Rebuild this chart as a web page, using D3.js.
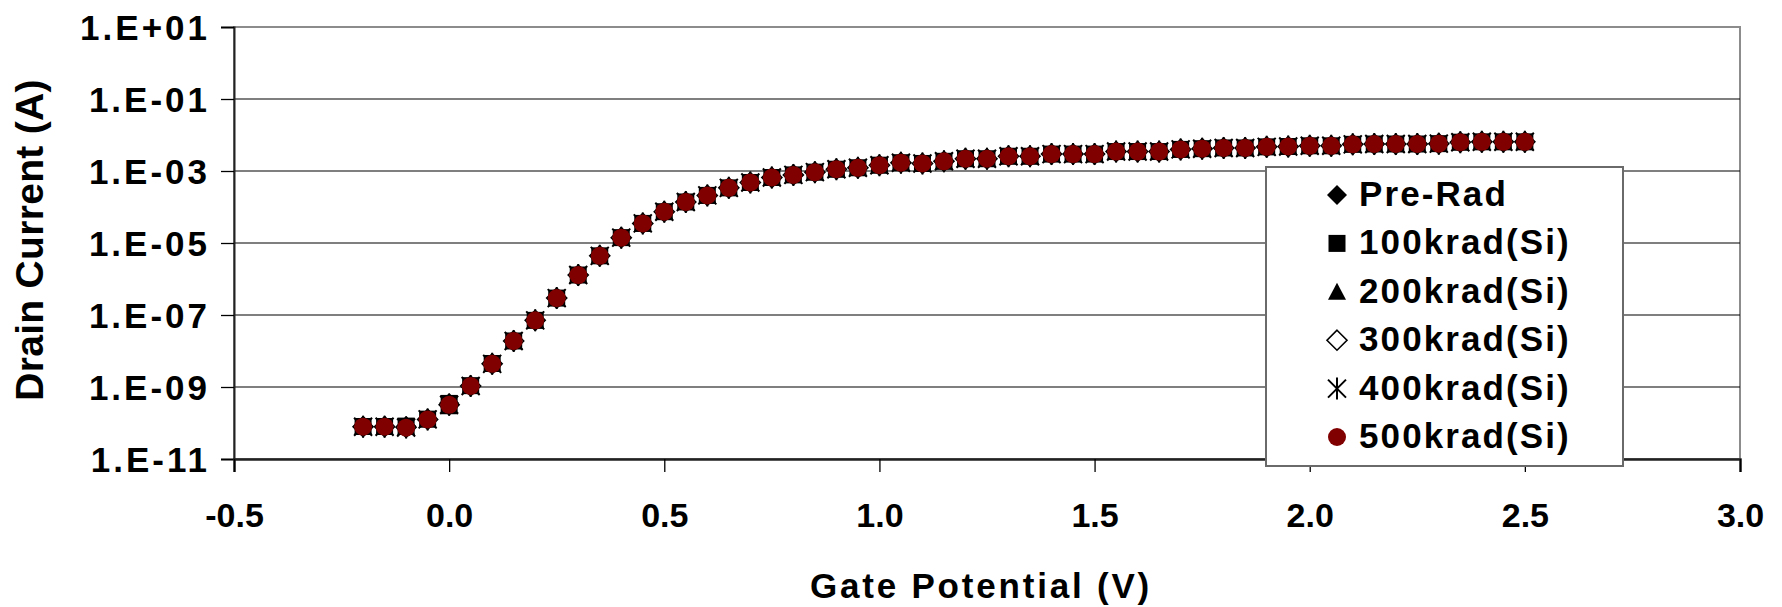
<!DOCTYPE html>
<html>
<head>
<meta charset="utf-8">
<script src="https://cdn.jsdelivr.net/npm/d3@7"></script>
<style>
  html, body { margin: 0; padding: 0; background: #fff; }
  svg { display: block; }
  text { font-family: "Liberation Sans", Arial, sans-serif; font-weight: bold; fill: #000; }
</style>
</head>
<body>
<svg id="chart" width="1782" height="607"></svg>
<script>
// Gate sweep (V)
const gateVoltage = [
  -0.20, -0.15, -0.10, -0.05, 0.00, 0.05, 0.10, 0.15, 0.20, 0.25, 0.30, 0.35, 0.40,
  0.45, 0.50, 0.55, 0.60, 0.65, 0.70, 0.75, 0.80, 0.85, 0.90, 0.95, 1.00, 1.05,
  1.10, 1.15, 1.20, 1.25, 1.30, 1.35, 1.40, 1.45, 1.50, 1.55, 1.60, 1.65, 1.70,
  1.75, 1.80, 1.85, 1.90, 1.95, 2.00, 2.05, 2.10, 2.15, 2.20, 2.25, 2.30, 2.35,
  2.40, 2.45, 2.50
];

// Drain current (A) for each total dose step
const preRad = [
  8.1e-11, 8.1e-11, 8.3e-11, 1.30e-10, 3.6e-10, 1.10e-9, 4.5e-9, 1.9e-8, 7.2e-8, 3.0e-7, 1.30e-6, 4.4e-6, 1.42e-5,
  3.5e-5, 7.4e-5, 1.38e-4, 2.1e-4, 3.4e-4, 4.8e-4, 6.6e-4, 7.8e-4, 9.3e-4, 1.12e-3, 1.23e-3, 1.45e-3, 1.70e-3,
  1.62e-3, 1.86e-3, 2.19e-3, 2.19e-3, 2.57e-3, 2.57e-3, 2.95e-3, 2.95e-3, 2.95e-3, 3.47e-3, 3.47e-3, 3.47e-3, 3.98e-3,
  4.17e-3, 4.37e-3, 4.37e-3, 4.68e-3, 4.79e-3, 5.01e-3, 5.01e-3, 5.50e-3, 5.62e-3, 5.62e-3, 5.62e-3, 5.75e-3, 6.31e-3,
  6.46e-3, 6.46e-3, 6.46e-3
];
const krad100 = [
  8.0e-11, 8.0e-11, 8.2e-11, 1.28e-10, 3.5e-10, 1.09e-9, 4.5e-9, 1.9e-8, 7.1e-8, 2.95e-7, 1.29e-6, 4.4e-6, 1.41e-5,
  3.5e-5, 7.4e-5, 1.38e-4, 2.1e-4, 3.4e-4, 4.8e-4, 6.6e-4, 7.8e-4, 9.3e-4, 1.12e-3, 1.23e-3, 1.45e-3, 1.70e-3,
  1.62e-3, 1.86e-3, 2.19e-3, 2.19e-3, 2.57e-3, 2.57e-3, 2.95e-3, 2.95e-3, 2.95e-3, 3.47e-3, 3.47e-3, 3.47e-3, 3.98e-3,
  4.17e-3, 4.37e-3, 4.37e-3, 4.68e-3, 4.79e-3, 5.01e-3, 5.01e-3, 5.50e-3, 5.62e-3, 5.62e-3, 5.62e-3, 5.75e-3, 6.31e-3,
  6.46e-3, 6.46e-3, 6.46e-3
];
const krad200 = [
  8.0e-11, 8.0e-11, 7.8e-11, 1.27e-10, 2.9e-10, 1.08e-9, 4.4e-9, 1.9e-8, 7.1e-8, 2.95e-7, 1.29e-6, 4.4e-6, 1.41e-5,
  3.5e-5, 7.4e-5, 1.38e-4, 2.1e-4, 3.4e-4, 4.8e-4, 6.6e-4, 7.8e-4, 9.3e-4, 1.12e-3, 1.23e-3, 1.45e-3, 1.70e-3,
  1.62e-3, 1.86e-3, 2.19e-3, 2.19e-3, 2.57e-3, 2.57e-3, 2.95e-3, 2.95e-3, 2.95e-3, 3.47e-3, 3.47e-3, 3.47e-3, 3.98e-3,
  4.17e-3, 4.37e-3, 4.37e-3, 4.68e-3, 4.79e-3, 5.01e-3, 5.01e-3, 5.50e-3, 5.62e-3, 5.62e-3, 5.62e-3, 5.75e-3, 6.31e-3,
  6.46e-3, 6.46e-3, 6.46e-3
];
const krad300 = [
  7.9e-11, 7.9e-11, 7.6e-11, 1.26e-10, 3.2e-10, 1.07e-9, 4.4e-9, 1.9e-8, 7.1e-8, 2.95e-7, 1.29e-6, 4.4e-6, 1.41e-5,
  3.5e-5, 7.4e-5, 1.38e-4, 2.1e-4, 3.4e-4, 4.8e-4, 6.6e-4, 7.8e-4, 9.3e-4, 1.12e-3, 1.23e-3, 1.45e-3, 1.70e-3,
  1.62e-3, 1.86e-3, 2.19e-3, 2.19e-3, 2.57e-3, 2.57e-3, 2.95e-3, 2.95e-3, 2.95e-3, 3.47e-3, 3.47e-3, 3.47e-3, 3.98e-3,
  4.17e-3, 4.37e-3, 4.37e-3, 4.68e-3, 4.79e-3, 5.01e-3, 5.01e-3, 5.50e-3, 5.62e-3, 5.62e-3, 5.62e-3, 5.75e-3, 6.31e-3,
  6.46e-3, 6.46e-3, 6.46e-3
];
const krad400 = [
  7.9e-11, 7.9e-11, 7.5e-11, 1.26e-10, 3.2e-10, 1.07e-9, 4.4e-9, 1.9e-8, 7.1e-8, 2.95e-7, 1.29e-6, 4.4e-6, 1.41e-5,
  3.5e-5, 7.4e-5, 1.38e-4, 2.1e-4, 3.4e-4, 4.8e-4, 6.6e-4, 7.8e-4, 9.3e-4, 1.12e-3, 1.23e-3, 1.45e-3, 1.70e-3,
  1.62e-3, 1.86e-3, 2.19e-3, 2.19e-3, 2.57e-3, 2.57e-3, 2.95e-3, 2.95e-3, 2.95e-3, 3.47e-3, 3.47e-3, 3.47e-3, 3.98e-3,
  4.17e-3, 4.37e-3, 4.37e-3, 4.68e-3, 4.79e-3, 5.01e-3, 5.01e-3, 5.50e-3, 5.62e-3, 5.62e-3, 5.62e-3, 5.75e-3, 6.31e-3,
  6.46e-3, 6.46e-3, 6.46e-3
];
const krad500 = [
  7.9e-11, 7.9e-11, 7.4e-11, 1.26e-10, 3.2e-10, 1.07e-9, 4.4e-9, 1.9e-8, 7.1e-8, 2.95e-7, 1.29e-6, 4.4e-6, 1.41e-5,
  3.5e-5, 7.4e-5, 1.38e-4, 2.1e-4, 3.4e-4, 4.8e-4, 6.6e-4, 7.8e-4, 9.3e-4, 1.12e-3, 1.23e-3, 1.45e-3, 1.70e-3,
  1.62e-3, 1.86e-3, 2.19e-3, 2.19e-3, 2.57e-3, 2.57e-3, 2.95e-3, 2.95e-3, 2.95e-3, 3.47e-3, 3.47e-3, 3.47e-3, 3.98e-3,
  4.17e-3, 4.37e-3, 4.37e-3, 4.68e-3, 4.79e-3, 5.01e-3, 5.01e-3, 5.50e-3, 5.62e-3, 5.62e-3, 5.62e-3, 5.75e-3, 6.31e-3,
  6.46e-3, 6.46e-3, 6.46e-3
];

const seriesNames = ["Pre-Rad", "100krad(Si)", "200krad(Si)", "300krad(Si)", "400krad(Si)", "500krad(Si)"];
const seriesValues = [preRad, krad100, krad200, krad300, krad400, krad500];
const seriesSymbols = ["diamond", "square", "triangle", "openDiamond", "asterisk", "circle"];

const xTicks = [-0.5, 0.0, 0.5, 1.0, 1.5, 2.0, 2.5, 3.0];
const xTickLabels = ["-0.5", "0.0", "0.5", "1.0", "1.5", "2.0", "2.5", "3.0"];
const yTicks = [1e1, 1e-1, 1e-3, 1e-5, 1e-7, 1e-9, 1e-11];
const yTickLabels = ["1.E+01", "1.E-01", "1.E-03", "1.E-05", "1.E-07", "1.E-09", "1.E-11"];

const xTitle = "Gate Potential (V)";
const yTitle = "Drain Current (A)";

// ---- layout ----
const svg = d3.select("#chart");
const plot = { left: 234, top: 27, right: 1740, bottom: 459 };

const x = d3.scaleLinear().domain([-0.5, 3.0]).range([plot.left, plot.right]);
const y = d3.scaleLog().domain([1e-11, 1e1]).range([plot.bottom, plot.top]);

// Marker painters: each draws one symbol centred on (cx, cy)
function drawMarker(g, kind, cx, cy) {
  switch (kind) {
    case "diamond":
      g.append("path").attr("d", `M${cx},${cy - 10}L${cx + 10},${cy}L${cx},${cy + 10}L${cx - 10},${cy}Z`)
        .attr("fill", "#000");
      break;
    case "square":
      g.append("rect").attr("x", cx - 8.5).attr("y", cy - 8.5).attr("width", 17).attr("height", 17)
        .attr("fill", "#000");
      break;
    case "triangle":
      g.append("path").attr("d", `M${cx},${cy - 9}L${cx + 9},${cy + 8}L${cx - 9},${cy + 8}Z`)
        .attr("fill", "#000");
      break;
    case "openDiamond":
      g.append("path").attr("d", `M${cx},${cy - 10}L${cx + 10},${cy}L${cx},${cy + 10}L${cx - 10},${cy}Z`)
        .attr("fill", "#fff").attr("stroke", "#000").attr("stroke-width", 1.6);
      break;
    case "asterisk":
      g.append("path")
        .attr("d", `M${cx - 9},${cy - 9}L${cx + 9},${cy + 9}M${cx + 9},${cy - 9}L${cx - 9},${cy + 9}M${cx},${cy - 11}L${cx},${cy + 11}`)
        .attr("fill", "none").attr("stroke", "#000").attr("stroke-width", 2);
      break;
    case "circle":
      g.append("circle").attr("cx", cx).attr("cy", cy).attr("r", 9).attr("fill", "#800000");
      break;
  }
}

// ---- plot frame and gridlines ----
svg.append("rect")
  .attr("x", plot.left).attr("y", plot.top)
  .attr("width", plot.right - plot.left).attr("height", plot.bottom - plot.top)
  .attr("fill", "#fff").attr("stroke", "#8c8c8c").attr("stroke-width", 2);

svg.append("g").selectAll("line")
  .data(yTicks.slice(1, -1))
  .join("line")
  .attr("x1", plot.left).attr("x2", plot.right)
  .attr("y1", d => y(d)).attr("y2", d => y(d))
  .attr("stroke", "#000").attr("stroke-width", 1.2);

// ---- axes ----
const yAxis = d3.axisLeft(y)
  .tickValues(yTicks)
  .tickFormat((d, i) => yTickLabels[i])
  .tickSize(13)
  .tickPadding(11);

const gy = svg.append("g")
  .attr("transform", `translate(${plot.left},0)`)
  .call(yAxis);
gy.select(".domain").attr("stroke", "#222").attr("stroke-width", 2);
gy.selectAll(".tick line").attr("stroke", "#000").attr("stroke-width", 1.3);
gy.selectAll(".tick text")
  .attr("font-size", 35)
  .attr("letter-spacing", "3px")
  .attr("dy", "0.36em")
  .attr("font-family", "Liberation Sans, Arial, sans-serif")
  .attr("font-weight", "bold")
  .attr("fill", "#000");

const xAxis = d3.axisBottom(x)
  .tickValues(xTicks)
  .tickFormat((d, i) => xTickLabels[i])
  .tickSize(13)
  .tickPadding(31);

const gx = svg.append("g")
  .attr("transform", `translate(0,${plot.bottom})`)
  .call(xAxis);
gx.select(".domain").attr("stroke", "#222").attr("stroke-width", 2.5);
gx.selectAll(".tick line").attr("stroke", "#000").attr("stroke-width", 1.3);
gx.selectAll(".tick text")
  .attr("font-size", 34)
  .attr("letter-spacing", "0px")
  .attr("dy", "0.7em")
  .attr("font-family", "Liberation Sans, Arial, sans-serif")
  .attr("font-weight", "bold")
  .attr("fill", "#000");

// ---- data markers (later series painted on top) ----
const marks = svg.append("g");
seriesValues.forEach((vals, s) => {
  const g = marks.append("g");
  vals.forEach((v, i) => drawMarker(g, seriesSymbols[s], x(gateVoltage[i]), y(v)));
});

// ---- axis titles ----
svg.append("text")
  .attr("x", (plot.left + plot.right) / 2 - 6)
  .attr("y", 598)
  .attr("text-anchor", "middle")
  .attr("font-size", 35)
  .attr("letter-spacing", "2.8px")
  .text(xTitle);

svg.append("text")
  .attr("transform", `translate(43,${(plot.top + plot.bottom) / 2 - 3}) rotate(-90)`)
  .attr("text-anchor", "middle")
  .attr("font-size", 39)
  .attr("letter-spacing", "0.3px")
  .text(yTitle);

// ---- legend ----
const legend = svg.append("g");
legend.append("rect")
  .attr("x", 1266).attr("y", 167).attr("width", 357).attr("height", 299)
  .attr("fill", "#fff").attr("stroke", "#6a6a6a").attr("stroke-width", 2);

const legendRow = d3.scaleLinear().domain([0, 5]).range([193, 435]);
seriesNames.forEach((name, s) => {
  const cy = legendRow(s);
  drawMarker(legend, seriesSymbols[s], 1337, cy + 2);
  legend.append("text")
    .attr("x", 1359).attr("y", cy + 13)
    .attr("font-size", 35)
    .attr("letter-spacing", "2.1px")
    .text(name);
});
</script>
</body>
</html>
